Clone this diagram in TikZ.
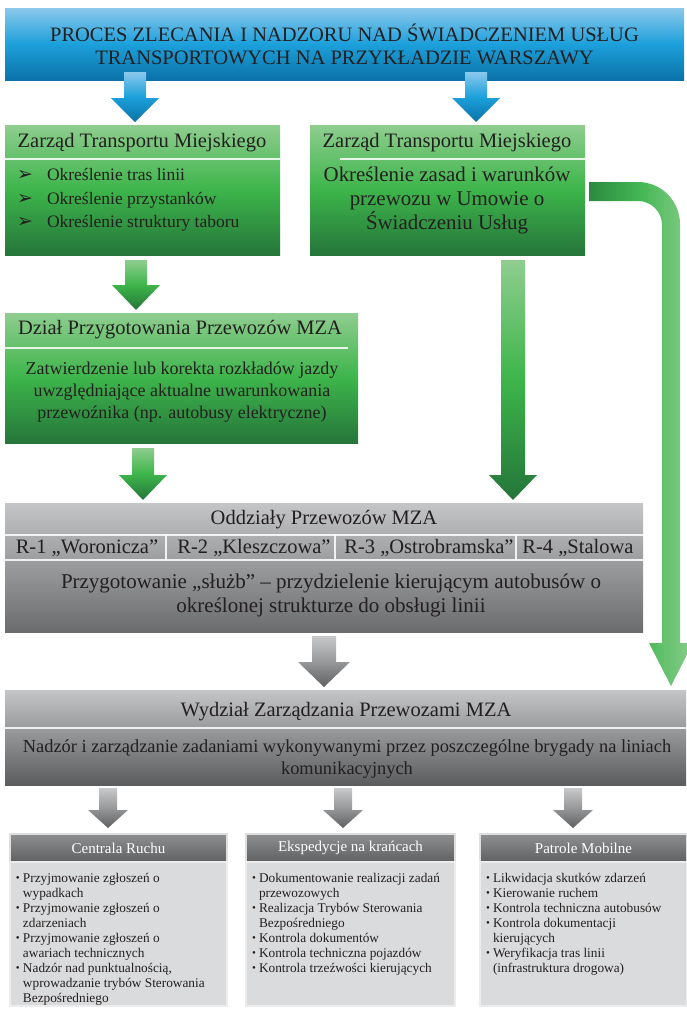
\documentclass[tikz,border=0pt]{standalone}
\usepackage{fontspec}
\setmainfont{Liberation Serif}
\newfontfamily\symfont{DejaVu Sans}
\usepackage{tikz}
\usetikzlibrary{calc}
\usetikzlibrary{positioning}

\definecolor{blueTop}{HTML}{8BC8EB}
\definecolor{blueMid}{HTML}{1CA0DB}
\definecolor{blueBot}{HTML}{0A72A8}
\definecolor{greenTop}{HTML}{8FCD8F}
\definecolor{greenMid}{HTML}{3DB54A}
\definecolor{greenBot}{HTML}{25753A}
\definecolor{greyTop}{HTML}{C4C5C7}
\definecolor{greyBot}{HTML}{6A6C6E}
\definecolor{greyDark}{HTML}{5A5C5E}
\definecolor{arrTop}{HTML}{C8C9CB}
\definecolor{arrMid}{HTML}{97989A}
\definecolor{arrBot}{HTML}{5E6062}
\definecolor{subTop}{HTML}{8E8F91}
\definecolor{subBot}{HTML}{5F6062}
\definecolor{subBody}{HTML}{DADBDC}
\definecolor{bendL}{HTML}{2A8A40}
\definecolor{bendM}{HTML}{45B754}
\definecolor{bendR}{HTML}{8ACD8B}
\definecolor{txt}{HTML}{231F20}

% shaded block arrow: style, from, to, shaft half width, head half width, head length
\newcommand\fatarrow[6]{%
  \shade[#1] let \p1=(#2), \p2=(#3) in
    (\x1-#4,\y1) -- (\x1+#4,\y1) -- (\x1+#4,\y2+#6) -- (\x1+#5,\y2+#6)
    -- (\x1,\y2) -- (\x1-#5,\y2+#6) -- (\x1-#4,\y2+#6) -- cycle;}
\newcommand\bul{\makebox[7pt][l]{\raisebox{0.3pt}{\fontsize{11}{11}\selectfont\textbullet}}}
\newcommand\ind{\hspace*{7pt}}
\newcommand\pointer{\makebox[30pt][l]{\symfont\fontsize{19}{19}\selectfont ➢}}
\newcommand\wtext[1]{\textcolor{white}{#1}}

\begin{document}
\begin{tikzpicture}[x=1pt,y=-1pt,
    every node/.style={inner sep=0pt, outer sep=0pt, text=txt},
    titlebox/.style={anchor=north west, top color=blueTop, bottom color=blueBot, middle color=blueMid,
      align=center, font=\fontsize{20.5}{23}\selectfont},
    greenbox/.style={anchor=north west, top color=greenTop, bottom color=greenBot, middle color=greenMid},
    greybox/.style={anchor=north west, top color=greyTop, bottom color=greyBot},
    greybox2/.style={anchor=north west, top color=greyTop, bottom color=greyDark},
    subhead/.style={anchor=north west, top color=subTop, bottom color=subBot, draw=white!75!gray,
      line width=1.2pt, minimum height=28pt, font=\fontsize{15}{17}\selectfont},
    subbody/.style={anchor=north west, fill=subBody, draw=white!85!gray, line width=1.2pt, minimum height=144pt},
    head/.style={font=\fontsize{20.5}{24}\selectfont},
    body/.style={align=center, font=\fontsize{20.5}{24}\selectfont},
    small/.style={anchor=north west, align=left, font=\fontsize{13.3}{15}\selectfont},
    sepline/.style={white, opacity=0.85, line width=1.2pt},
    bluearrow/.style={top color=blueTop, bottom color=blueBot, middle color=blueMid},
    greenarrow/.style={top color=greenTop, bottom color=greenBot, middle color=greenMid},
    greyarrow/.style={top color=arrTop, bottom color=arrBot, middle color=arrMid},
    bendarrow/.style={left color=bendL, right color=bendR, middle color=bendM}]
\useasboundingbox (0,0) rectangle (686,1010);

\node[titlebox, minimum width=679pt, minimum height=72pt] (title) at (5,8)
  {PROCES ZLECANIA I NADZORU NAD ŚWIADCZENIEM USŁUG\\TRANSPORTOWYCH NA PRZYKŁADZIE WARSZAWY};

% green boxes
\node[greenbox, minimum width=275pt, minimum height=130pt] (zarzadL) at (5,125) {};
\node[greenbox, minimum width=275pt, minimum height=130pt] (zarzadR) at (310,125) {};
\node[greenbox, minimum width=353pt, minimum height=130pt] (dzial) at (5,313) {};

\node[head] (zarzadLhead) at (142,143) {Zarząd Transportu Miejskiego};
\draw[sepline] ($(zarzadL.north west)+(0,34)$) -- ($(zarzadL.north east)+(0,34)$);
\node[anchor=west, align=left, font=\fontsize{17.5}{23.5}\selectfont] (zarzadLlist) at (17,200)
  {\pointer Określenie tras linii\\
   \pointer Określenie przystanków\\
   \pointer Określenie struktury taboru};

\node[head] (zarzadRhead) at (447,143) {Zarząd Transportu Miejskiego};
\draw[sepline] ($(zarzadR.north west)+(30,34)$) -- ($(zarzadR.north east)+(0,34)$);
\node[body, font=\fontsize{20.9}{24}\selectfont] (zarzadRtext) at (447,200)
  {Określenie zasad i warunków\\przewozu w Umowie o\\Świadczeniu Usług};

\node[head] (dzialhead) at (180,330) {Dział Przygotowania Przewozów MZA};
\draw[sepline] ($(dzial.north west)+(0,35)$) -- ($(dzial.north east)+(-10,35)$);
\node[body, font=\fontsize{18}{22}\selectfont] (dzialtext) at (182,392)
  {Zatwierdzenie lub korekta rozkładów jazdy\\uwzględniające aktualne uwarunkowania\\przewoźnika (np. autobusy elektryczne)};

% grey boxes
\node[greybox, minimum width=638pt, minimum height=129pt] (oddzialy) at (5,503) {};
\node[head] (oddzialyhead) at (324,520) {Oddziały Przewozów MZA};
\draw[sepline] ($(oddzialy.north west)+(0,32)$) -- ($(oddzialy.north east)+(0,32)$);
\draw[sepline] ($(oddzialy.north west)+(0,57)$) -- ($(oddzialy.north east)+(0,57)$);
\foreach \cx in {166,335,516}
  \draw[sepline] (\cx,535) -- (\cx,560);
\node[head] (r1) at (87,548) {R-1 „Woronicza”};
\node[head] (r2) at (254,548) {R-2 „Kleszczowa”};
\node[head] (r3) at (429,548) {R-3 „Ostrobramska”};
\node[head] (r4) at (578,548) {R-4 „Stalowa};
\node[body, font=\fontsize{21}{24}\selectfont] (oddzialytext) at (331,595)
  {Przygotowanie „służb” – przydzielenie kierującym autobusów o\\określonej strukturze do obsługi linii};

\node[greybox2, minimum width=681pt, minimum height=95pt] (wydzial) at (5,690) {};
\node[head] (wydzialhead) at (346,712) {Wydział Zarządzania Przewozami MZA};
\draw[sepline] ($(wydzial.north west)+(0,38)$) -- ($(wydzial.north east)+(0,38)$);
\node[body, font=\fontsize{18.4}{22}\selectfont] (wydzialtext) at (347,759)
  {Nadzór i zarządzanie zadaniami wykonywanymi przez poszczególne brygady na liniach\\komunikacyjnych};

% bottom boxes
\node[subhead, minimum width=217pt] (centrala) at (10,834) {\wtext{Centrala Ruchu}};
\node[subbody, minimum width=217pt] (centralabody) at (10,862) {};
\node[subhead, minimum width=209pt] (ekspedycje) at (246,834) {\wtext{Ekspedycje na krańcach}};
\node[subbody, minimum width=209pt] (ekspedycjebody) at (246,862) {};
\node[subhead, minimum width=207pt] (patrole) at (480,834) {\wtext{Patrole Mobilne}};
\node[subbody, minimum width=207pt] (patrolebody) at (480,862) {};

\node[small] (centralalist) at (16,873)
  {\bul Przyjmowanie zgłoszeń o\\\ind wypadkach\\
   \bul Przyjmowanie zgłoszeń o\\\ind zdarzeniach\\
   \bul Przyjmowanie zgłoszeń o\\\ind awariach technicznych\\
   \bul Nadzór nad punktualnością,\\\ind wprowadzanie trybów Sterowania\\\ind Bezpośredniego};
\node[small] (ekspedycjelist) at (252,873)
  {\bul Dokumentowanie realizacji zadań\\\ind przewozowych\\
   \bul Realizacja Trybów Sterowania\\\ind Bezpośredniego\\
   \bul Kontrola dokumentów\\
   \bul Kontrola techniczna pojazdów\\
   \bul Kontrola trzeźwości kierujących};
\node[small] (patrolelist) at (486,873)
  {\bul Likwidacja skutków zdarzeń\\
   \bul Kierowanie ruchem\\
   \bul Kontrola techniczna autobusów\\
   \bul Kontrola dokumentacji\\\ind kierujących\\
   \bul Weryfikacja tras linii\\\ind (infrastruktura drogowa)};

% arrows
\fatarrow{bluearrow}{$(135,0 |- title.south)+(0,-8)$}{$(135,0 |- zarzadL.north)+(0,-3)$}{11}{24}{24}
\fatarrow{bluearrow}{$(476,0 |- title.south)+(0,-8)$}{$(476,0 |- zarzadR.north)+(0,-3)$}{11}{24}{24}
\fatarrow{greenarrow}{$(136,0 |- zarzadL.south)+(0,5)$}{$(136,0 |- dzial.north)+(0,-3)$}{11}{24}{25}
\fatarrow{greenarrow}{$(513,0 |- zarzadR.south)+(0,5)$}{$(513,0 |- oddzialy.north)+(0,-3)$}{12}{24}{25}
\fatarrow{greenarrow}{$(143,0 |- dzial.south)+(0,5)$}{$(143,0 |- oddzialy.north)+(0,-3)$}{11}{24}{25}
\fatarrow{greyarrow}{$(324,0 |- oddzialy.south)+(0,4)$}{$(324,0 |- wydzial.north)+(0,-3)$}{12}{26}{25}
\fatarrow{greyarrow}{$(108,0 |- wydzial.south)+(0,3)$}{$(108,0 |- centrala.north)+(0,-6)$}{9}{20}{18}
\fatarrow{greyarrow}{$(343,0 |- wydzial.south)+(0,3)$}{$(343,0 |- ekspedycje.north)+(0,-6)$}{9}{20}{18}
\fatarrow{greyarrow}{$(573,0 |- wydzial.south)+(0,3)$}{$(573,0 |- patrole.north)+(0,-6)$}{9}{20}{18}

% bent arrow from zarzadR to wydzial
\shade[bendarrow] (589,182) -- (638,182) .. controls (661.2,182) and (680,200.8) .. (680,224)
  -- (680,643) -- (693,643) -- (671,686) -- (649,643) -- (662,643) -- (662,225)
  .. controls (662,211.7) and (651.3,201) .. (638,201) -- (589,201) -- cycle;
\end{tikzpicture}
\end{document}
